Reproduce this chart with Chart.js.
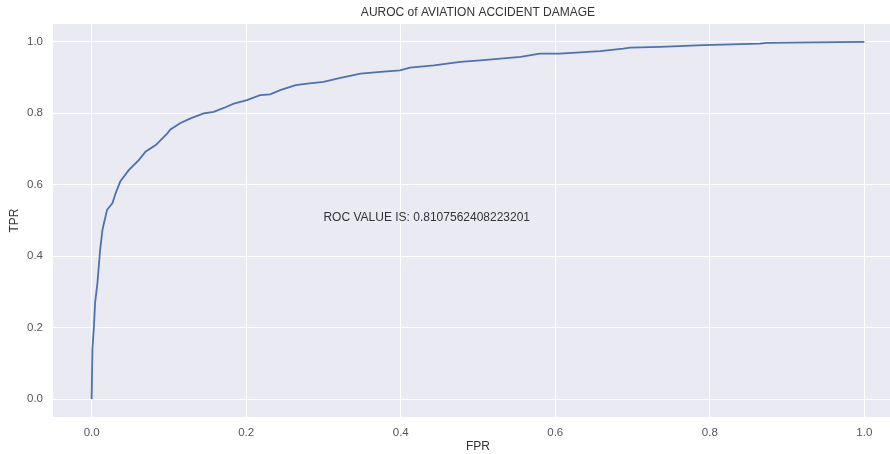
<!DOCTYPE html>
<html>
<head>
<meta charset="utf-8">
<script src="https://cdn.jsdelivr.net/npm/chart.js@4/dist/chart.umd.min.js"></script>
<style>
html,body{margin:0;padding:0;background:#fff;overflow:hidden;}
#wrap{width:905px;height:454px;}
</style>
</head>
<body>
<div id="wrap"><canvas id="c" width="905" height="454"></canvas></div>
<script>
const chartTitle = 'AUROC of AVIATION ACCIDENT DAMAGE';
const xLabel = 'FPR';
const yLabel = 'TPR';
const annotationText = 'ROC VALUE IS: 0.8107562408223201';
const annotationPos = [0.3, 0.5];
const tickValues = [0, 0.2, 0.4, 0.6, 0.8, 1.0];

const fpr = [0, 0.001, 0.003, 0.0045, 0.0075, 0.011, 0.014, 0.016, 0.020, 0.027, 0.031, 0.037, 0.048, 0.061, 0.070, 0.083, 0.098, 0.102, 0.115, 0.128, 0.145, 0.158, 0.171, 0.184, 0.201, 0.218, 0.231, 0.244, 0.264, 0.279, 0.300, 0.322, 0.348, 0.374, 0.399, 0.412, 0.443, 0.477, 0.503, 0.529, 0.555, 0.580, 0.606, 0.658, 0.688, 0.697, 0.736, 0.792, 0.865, 0.874, 0.934, 1.0];
const tpr = [0, 0.139, 0.204, 0.27, 0.325, 0.418, 0.474, 0.493, 0.53, 0.549, 0.576, 0.609, 0.641, 0.669, 0.693, 0.711, 0.744, 0.755, 0.773, 0.786, 0.800, 0.804, 0.815, 0.827, 0.837, 0.851, 0.853, 0.865, 0.879, 0.883, 0.888, 0.899, 0.911, 0.916, 0.920, 0.928, 0.934, 0.944, 0.948, 0.953, 0.958, 0.967, 0.967, 0.974, 0.981, 0.984, 0.986, 0.991, 0.995, 0.997, 0.9986, 1.0];

const points = fpr.map((x, i) => ({x: x, y: tpr[i]}));
const FONT = "'Liberation Sans', Arial, sans-serif";

const bgPlugin = {
  id: 'bgPlugin',
  beforeDraw(chart) {
    const {ctx, chartArea: a} = chart;
    ctx.save();
    ctx.fillStyle = '#eaeaf2';
    ctx.fillRect(a.left, a.top, a.right - a.left, a.bottom - a.top);
    ctx.restore();
  },
  afterDraw(chart) {
    const {ctx, chartArea: a, scales} = chart;
    ctx.save();
    ctx.fillStyle = '#333';
    ctx.font = '12px ' + FONT;
    ctx.textAlign = 'center';
    ctx.textBaseline = 'middle';
    ctx.fillText(chartTitle, (a.left + a.right) / 2, 13);
    ctx.textAlign = 'left';
    ctx.textBaseline = 'alphabetic';
    ctx.font = '12px ' + FONT;
    ctx.fillText(annotationText, scales.x.getPixelForValue(annotationPos[0]), scales.y.getPixelForValue(annotationPos[1]));
    ctx.restore();
  }
};

new Chart(document.getElementById('c'), {
  type: 'scatter',
  data: {
    datasets: [{
      data: points,
      showLine: true,
      borderColor: '#4c72b0',
      borderWidth: 1.8,
      pointRadius: 0,
      tension: 0,
      fill: false
    }]
  },
  options: {
    responsive: false,
    animation: false,
    layout: {padding: {top: 24, right: 2, left: 0, bottom: 0}},
    plugins: {legend: {display: false}, tooltip: {enabled: false}, title: {display: false}},
    scales: {
      x: {
        type: 'linear',
        min: -0.05, max: 1.05,
        afterBuildTicks: (s) => { s.ticks = tickValues.map(v => ({value: v})); },
        afterFit: (s) => { s.height = 37; },
        grid: {color: '#ffffff', lineWidth: 1, drawTicks: false},
        border: {display: false},
        ticks: {padding: 9, color: '#555', font: {size: 11.5, family: FONT}, callback: v => v.toFixed(1), maxRotation: 0},
        title: {display: true, text: xLabel, color: '#333', font: {size: 12, family: FONT}, padding: {top: 0, bottom: 0}}
      },
      y: {
        type: 'linear',
        min: -0.05, max: 1.05,
        afterBuildTicks: (s) => { s.ticks = tickValues.map(v => ({value: v})); },
        afterFit: (s) => { s.width = 53; },
        grid: {color: '#ffffff', lineWidth: 1, drawTicks: false},
        border: {display: false},
        ticks: {padding: 10, color: '#555', font: {size: 11.5, family: FONT}, callback: v => v.toFixed(1)},
        title: {display: true, text: yLabel, color: '#333', font: {size: 12, family: FONT}, padding: {top: 7, bottom: 0}}
      }
    }
  },
  plugins: [bgPlugin]
});
</script>
</body>
</html>
